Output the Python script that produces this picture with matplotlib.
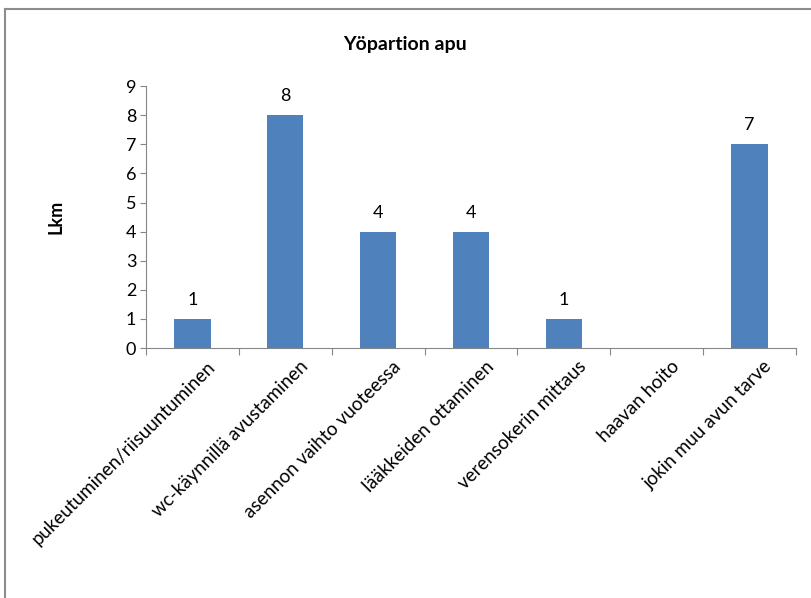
import matplotlib
matplotlib.use("Agg")
import matplotlib.pyplot as plt
from matplotlib.lines import Line2D
import numpy as np

plt.rcParams["font.family"] = ["Lato", "DejaVu Sans"]

categories = ["pukeutuminen/riisuuntuminen", "wc-käynnillä avustaminen",
              "asennon vaihto vuoteessa", "lääkkeiden ottaminen",
              "verensokerin mittaus", "haavan hoito", "jokin muu avun tarve"]
counts = [1, 8, 4, 4, 1, 0, 7]

BAR_C = "#4f81bd"
AX_C = "#868686"

fig = plt.figure(figsize=(8.11, 5.98), dpi=100)
ax = fig.add_axes((0.180, 0.418, 0.8015, 0.438))

x = np.arange(len(categories))
bars = ax.bar(x, counts, width=0.39, color=BAR_C, zorder=2)
for xi, v in zip(x, counts):
    if v:
        ax.annotate(str(v), (xi, v), xytext=(0, 8), textcoords="offset points",
                    ha="center", va="bottom", fontsize=13)

ax.set_xlim(-0.5, len(categories) - 0.5)
ax.set_ylim(0, 9)
ax.set_yticks(range(10))
ax.tick_params(axis="y", direction="out", length=4, color=AX_C, labelsize=13, pad=3)

# category boundary ticks below the axis, labels centred under each bar
ax.set_xticks(np.arange(len(categories) + 1) - 0.5)
ax.set_xticklabels([])
ax.tick_params(axis="x", direction="out", length=5, color=AX_C)
for xi, lab in zip(x, categories):
    ax.annotate(lab, (xi, 0), xytext=(10, -7), textcoords="offset points",
                rotation=45, ha="right", va="top", rotation_mode="anchor",
                fontsize=13.5, annotation_clip=False)

for s in ("top", "right"):
    ax.spines[s].set_visible(False)
for s in ("left", "bottom"):
    ax.spines[s].set_color(AX_C)

ax.set_ylabel("Lkm", fontsize=13, fontweight="bold", labelpad=44)
fig.text(0.499, 0.925, "Yöpartion apu", ha="center", va="center",
         fontsize=14, fontweight="bold")

# chart frame edges (top and left)
fig.add_artist(Line2D([0.006, 1.0], [0.985, 0.985], color="#8c8c8c", lw=1.5,
                      transform=fig.transFigure))
fig.add_artist(Line2D([0.006, 0.006], [0.0, 0.985], color="#8c8c8c", lw=1.5,
                      transform=fig.transFigure))

fig.savefig("out.png", dpi=100)
